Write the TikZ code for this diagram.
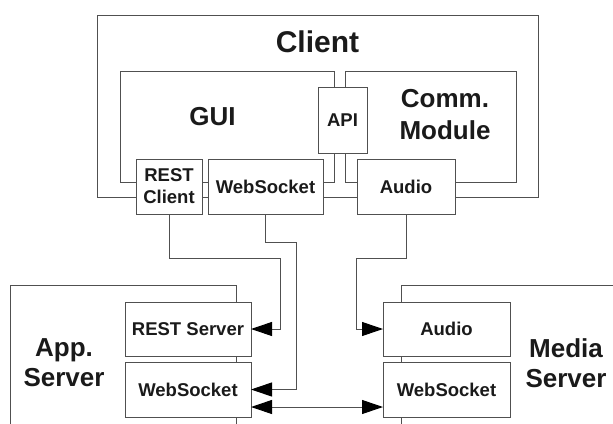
\documentclass[tikz,border=0pt]{standalone}
\usepackage{fontspec}
\setmainfont{Liberation Sans}
\usetikzlibrary{arrows.meta}

\definecolor{linegray}{RGB}{80,80,80}
\definecolor{textgray}{RGB}{26,26,26}

\tikzset{
    frame/.style={draw=linegray, line width=1pt, inner sep=0pt, outer sep=0pt},
    part/.style={draw=linegray, fill=white, line width=1pt, inner sep=0pt,
        outer sep=0pt, align=center, text=textgray,
        font=\bfseries\fontsize{18.5}{22}\selectfont},
    title/.style={text=textgray, align=center, inner sep=0pt,
        font=\bfseries\fontsize{26}{31}\selectfont},
    tip/.tip={Triangle[length=21pt,width=14pt,color=black]},
    link/.style={draw=linegray, line width=1pt, -tip},
}

\begin{document}
\begin{tikzpicture}[x=1pt, y=-1pt]

        \path[use as bounding box] (0,0) rectangle (613,423);
        \clip (0,0) rectangle (613,423);

        % Client and its modules
        \node[frame, minimum width=441, minimum height=182] (client) at (317.5,106) {};
        \node[title, font=\bfseries\fontsize{30}{36}\selectfont] (clientname) at (317.5,42) {Client};

        \node[frame, minimum width=214, minimum height=111] (gui) at (227,126.5) {};
        \node[title] (guiname) at (212.5,117) {GUI};

        \node[frame, minimum width=171, minimum height=111] (comm) at (430.5,126.5) {};
        \node[title, font=\bfseries\fontsize{26}{32}\selectfont] (commname) at (445,115) {Comm.\\Module};

        \node[part, minimum width=49, minimum height=66] (api) at (342.5,120) {API};

        \node[part, minimum width=66, minimum height=55] (restc) at (169,186.5) {REST\\Client};
        \node[part, minimum width=115, minimum height=55] (wsc) at (265.5,186.5) {WebSocket};
        \node[part, minimum width=98, minimum height=55] (audc) at (406,186.5) {Audio};

        % Servers
        \node[frame, minimum width=226, minimum height=155] (appsrv) at (123,362.5) {};
        \node[title, font=\bfseries\fontsize{26}{30}\selectfont] (appname) at (64,363) {App.\\Server};

        \node[frame, minimum width=239, minimum height=155] (medsrv) at (520.5,362.5) {};
        \node[title, font=\bfseries\fontsize{26}{30}\selectfont] (medname) at (566,363) {Media\\Server};

        \node[part, minimum width=126, minimum height=54] (restsrv) at (188,329) {REST Server};
        \node[part, minimum width=126, minimum height=55] (wsapp) at (188,389.5) {WebSocket};
        \node[part, minimum width=127, minimum height=54] (audsrv) at (446.5,329) {Audio};
        \node[part, minimum width=127, minimum height=55] (wsmed) at (446.5,389.5) {WebSocket};

        % Connections
        \draw[link] (restc.south) -- ++(0,44) -| ([xshift=29pt]restsrv.east) -- (restsrv.east);
        \draw[link] (wsc.south) -- ++(0,28) -| ([xshift=45pt]wsapp.east) -- (wsapp.east);
        \draw[link] (audc.south) -- ++(0,44) -| ([xshift=-27pt]audsrv.west) -- (audsrv.west);
        \draw[link, tip-tip] ([yshift=-17.5pt]wsapp.east) -- ([yshift=-17.5pt]wsmed.west);

\end{tikzpicture}
\end{document}
